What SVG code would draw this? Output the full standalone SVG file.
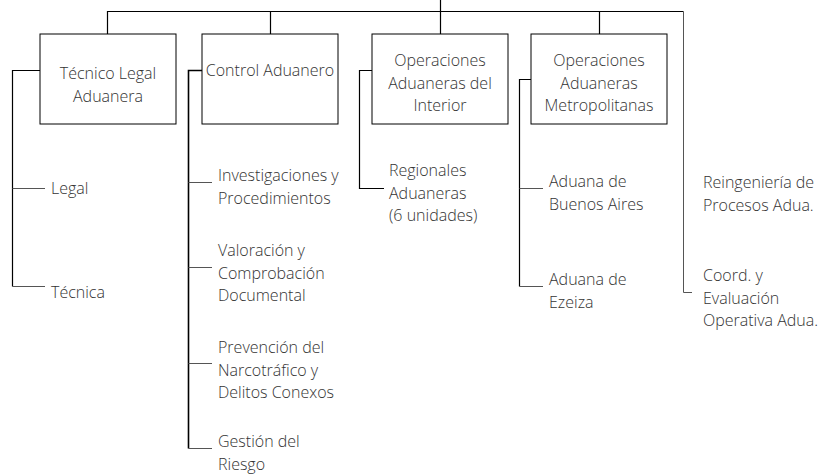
<svg xmlns="http://www.w3.org/2000/svg" width="827" height="474" viewBox="0 0 827 474">
<style>
text{font-family:"Open Sans","Liberation Sans",sans-serif;font-weight:300;font-size:16px;fill:#333}
.c{text-anchor:middle}
.box{fill:#fff;stroke:#000;stroke-width:1}
.ln{fill:none;stroke:#000;stroke-width:1.2}
.br{fill:none;stroke:#555;stroke-width:1}
</style>
<rect width="827" height="474" fill="#fff"/>
<g id="connectors">
<path class="ln" d="M440.5,0V11.5M107.5,34V11.5H683.5M270.5,11.5V34M440.5,11.5V34M599.5,11.5V34"/>
<path class="br" d="M683.5,11.5V292.5H692"/>
<path class="ln" d="M40,70.5H12.5V286.5"/>
<path class="br" d="M12.5,188.5H45M12.5,286.5H45"/>
<path class="ln" d="M202,70.5H188.5V448.5" style="stroke-width:1.6"/>
<path class="br" d="M188.5,182.5H212M188.5,267.5H212M188.5,363.5H212M188.5,448.5H212"/>
<path class="ln" d="M372,70.5H359.5V188.5H384"/>
<path class="ln" d="M531,79.5H519.5V286.5"/>
<path class="br" d="M519.5,188.5H543M519.5,286.5H543"/>
</g>
<g id="n1"><rect class="box" x="40" y="34" width="136" height="90"/><text class="c" x="108" y="79">Técnico Legal</text><text class="c" x="108" y="101.5">Aduanera</text></g>
<g id="n2"><rect class="box" x="202" y="34" width="136" height="90"/><text class="c" x="270" y="76">Control Aduanero</text></g>
<g id="n3"><rect class="box" x="372" y="34" width="136" height="90"/><text class="c" x="440" y="66">Operaciones</text><text class="c" x="440" y="88.5">Aduaneras del</text><text class="c" x="440" y="111">Interior</text></g>
<g id="n4"><rect class="box" x="531" y="34" width="136" height="90"/><text class="c" x="599" y="66">Operaciones</text><text class="c" x="599" y="88.5">Aduaneras</text><text class="c" x="599" y="111">Metropolitanas</text></g>
<g id="legal"><text x="51" y="194">Legal</text></g>
<g id="tecnica"><text x="51" y="298">Técnica</text></g>
<g id="invest"><text x="218" y="181">Investigaciones y</text><text x="218" y="203.5">Procedimientos</text></g>
<g id="valor"><text x="218" y="256">Valoración y</text><text x="218" y="278.5">Comprobación</text><text x="218" y="301">Documental</text></g>
<g id="prev"><text x="218" y="353">Prevención del</text><text x="218" y="375.5">Narcotráfico y</text><text x="218" y="398">Delitos Conexos</text></g>
<g id="gestion"><text x="218" y="447">Gestión del</text><text x="218" y="469.5">Riesgo</text></g>
<g id="regionales"><text x="389" y="176">Regionales</text><text x="389" y="198.5">Aduaneras</text><text x="389" y="221">(6 unidades)</text></g>
<g id="bsas"><text x="549" y="187">Aduana de</text><text x="549" y="209.5">Buenos Aires</text></g>
<g id="ezeiza"><text x="549" y="285">Aduana de</text><text x="549" y="307.5">Ezeiza</text></g>
<g id="reing"><text x="703" y="188">Reingeniería de</text><text x="703" y="210.5">Procesos Adua.</text></g>
<g id="coord"><text x="703" y="281">Coord. y</text><text x="703" y="303.5">Evaluación</text><text x="703" y="326">Operativa Adua.</text></g>
</svg>
